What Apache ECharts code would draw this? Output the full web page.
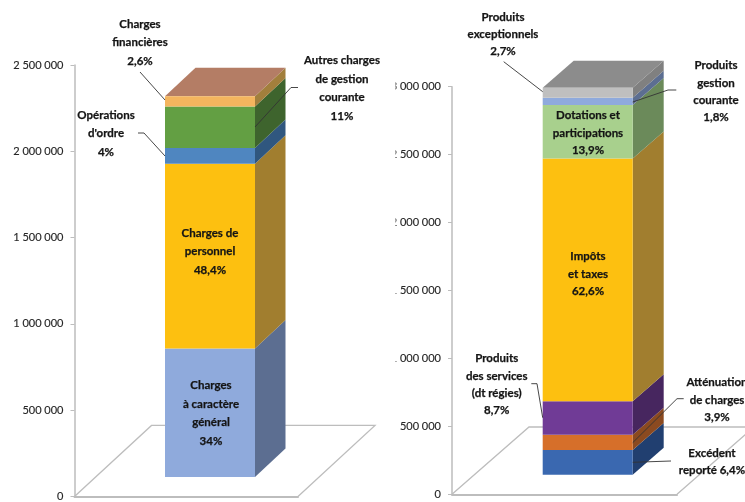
<!DOCTYPE html>
<html><head><meta charset="utf-8">
<style>html,body{margin:0;padding:0;background:#fff}#c{width:745px;height:502px}</style>
<script src="https://cdn.jsdelivr.net/npm/echarts@6/dist/echarts.min.js"></script>
</head><body><div id="c"></div>
<script>
// ---- data ----
const depensesNames = ["Charges\nà caractère\ngénéral\n34%","Charges de\npersonnel\n48,4%","Opérations\nd'ordre\n4%","Autres charges\nde gestion\ncourante\n11%","Charges\nfinancières\n2,6%"];
const depensesValues = [742000,1067000,90000,240000,59000];
const recettesNames = ["Excédent\nreporté 6,4%","Atténuation\nde charges\n3,9%","Produits\ndes services\n(dt régies)\n8,7%","Impôts\net taxes\n62,6%","Dotations et\nparticipations\n13,9%","Produits\ngestion\ncourante\n1,8%","Produits\nexceptionnels\n2,7%"];
const recettesValues = [181600,112500,245600,1786800,394100,54000,73500];
// ---- styling ----
const depensesFront = ["#8FAADC","#FDC010","#4F86C0","#639F43","#F4B55E"];
const depensesSide = ["#5C6E91","#A17E2F","#30577F","#3E642D","#A27F3C"];
const recettesFront = ["#3A68B0","#D66F2A","#703B96","#FDC010","#A8D08D","#8FAADC","#BFBFBF"];
const recettesSide = ["#213F70","#8B4A20","#47265F","#A17E2F","#6B8A5A","#5C6E91","#808080"];
const depensesLabelAt = [[211,413.5],[210,251.5],[106,133.7],[342,88.5],[140,42.5]];
const recettesLabelAt = [[712,462],[717,400],[496.7,384.7],[588,274],[588,133],[716,91.5],[503,34.3]];
const depensesLeaders = [[[140,72],[165,100]],[[138,133],[144,133],[165,156]],[[298,87.5],[291,87.5],[255,127]]];
const recettesLeaders = [[[503.7,61.7],[542.7,91.7]],[[676.3,90],[668,90],[632.7,102]],[[531.3,383.7],[537,383.7],[542.7,417.7]],[[683.7,398.7],[677,398.7],[632.7,442.7]],[[671,461],[632.7,462.3]]];

const AXIS = "#BDBDBD", FONT = "Lato";
const fmt = v => String(v).replace(/\B(?=(\d{3})+(?!\d))/g, " ");

const panels = [
 {names:depensesNames, values:depensesValues, front:depensesFront, side:depensesSide, at:depensesLabelAt, top:"#B47D65",
  axisLeft:74.5, axisRight:298, axisTop:65, axisBottom:498, max:2500000,
  barLeft:165, barBottom:477, dx:30.5, dy:28.5, floorDx:77, floorDy:71},
 {names:recettesNames, values:recettesValues, front:recettesFront, side:recettesSide, at:recettesLabelAt, top:"#8C8C8C",
  axisLeft:452, axisRight:677, axisTop:86.7, axisBottom:494.3, max:3000000,
  barLeft:542.7, barBottom:474.7, dx:31, dy:27, floorDx:77, floorDy:67.3}
];

const grid=[],xAxis=[],yAxis=[],series=[];
panels.forEach((p,pi)=>{
  const ga=pi*2, gb=pi*2+1, H=p.axisBottom-p.axisTop, W=90;
  grid.push({left:p.axisLeft,top:p.axisTop,width:p.axisRight-p.axisLeft,height:H});
  grid.push({left:p.barLeft,top:p.barBottom-H,width:W,height:H});
  xAxis.push({gridIndex:ga,type:"category",data:[""],axisLine:{lineStyle:{color:AXIS,width:2}},axisTick:{show:false},axisLabel:{show:false}});
  xAxis.push({gridIndex:gb,type:"category",data:[""],show:false});
  yAxis.push({gridIndex:ga,type:"value",min:0,max:p.max,interval:500000,splitLine:{show:false},
    axisLine:{show:true,lineStyle:{color:AXIS,width:1.5}},axisTick:{show:true,length:4,lineStyle:{color:AXIS,width:1}},
    axisLabel:{color:"#262626",fontFamily:FONT,fontSize:11,margin:11,formatter:fmt,textBorderColor:"#262626",textBorderWidth:0.15}});
  yAxis.push({gridIndex:gb,type:"value",min:0,max:p.max,show:false});
  // floor, derived from the axis grid
  series.push({type:"custom",xAxisIndex:ga,yAxisIndex:ga,silent:true,z:1,data:[[0,0]],
    renderItem(params,api){
      const c=params.coordSys, b=c.y+c.height, l=c.x, r=c.x+c.width;
      return {type:"polyline",shape:{points:[[l,b],[l+p.floorDx,b-p.floorDy],[r+p.floorDx,b-p.floorDy],[r,b]]},
        style:{stroke:AXIS,lineWidth:1.3,fill:null}};
    }});
  // 3D side and top faces
  let cum=0; const faces=p.values.map((v,i)=>{const s=[0,cum,cum+v,i];cum+=v;return s;});
  const total=cum;
  series.push({type:"custom",xAxisIndex:gb,yAxisIndex:gb,silent:true,z:3,data:faces,
    renderItem(params,api){
      const i=api.value(3), x=params.coordSys.x+params.coordSys.width, l=params.coordSys.x;
      const y0=api.coord([0,api.value(1)])[1], y1=api.coord([0,api.value(2)])[1];
      const kids=[{type:"polygon",shape:{points:[[x,y0],[x+p.dx,y0-p.dy],[x+p.dx,y1-p.dy],[x,y1]]},style:{fill:p.side[i]}}];
      if(api.value(2)===total) kids.push({type:"polygon",shape:{points:[[l,y1],[l+p.dx,y1-p.dy],[x+p.dx,y1-p.dy],[x,y1]]},style:{fill:p.top}});
      return {type:"group",children:kids};
    }});
  // front faces with labels
  let run=0; const pxPer=H/p.max;
  p.values.forEach((v,i)=>{
    const cy=p.barBottom-(run+v/2)*pxPer, cx=p.barLeft+W/2; run+=v;
    series.push({type:"bar",name:p.names[i].replace(/\n/g," "),xAxisIndex:gb,yAxisIndex:gb,stack:"s"+pi,barWidth:"100%",z:4,silent:true,
      data:[v],itemStyle:{color:p.front[i]},
      label:{show:true,position:"inside",formatter:p.names[i],color:"#141414",fontFamily:FONT,fontWeight:700,fontSize:11.5,
        textBorderColor:"#141414",textBorderWidth:0.25,
        lineHeight:pi?17.3:18.5,align:"center",verticalAlign:"middle",
        offset:[p.at[i][0]-cx,p.at[i][1]-cy]}});
  });
});

const graphic=[...depensesLeaders,...recettesLeaders].map(pts=>({type:"polyline",z:50,silent:true,shape:{points:pts},style:{stroke:"#333",lineWidth:0.9,fill:null}}));
graphic.push({type:"rect",z:100,silent:true,shape:{x:380,y:75,width:15.5,height:360},style:{fill:"#fff"}});

const chart=echarts.init(document.getElementById("c"),null,{renderer:"canvas"});
chart.setOption({animation:false,backgroundColor:"#fff",tooltip:{show:false},grid,xAxis,yAxis,series,graphic});
</script></body></html>
